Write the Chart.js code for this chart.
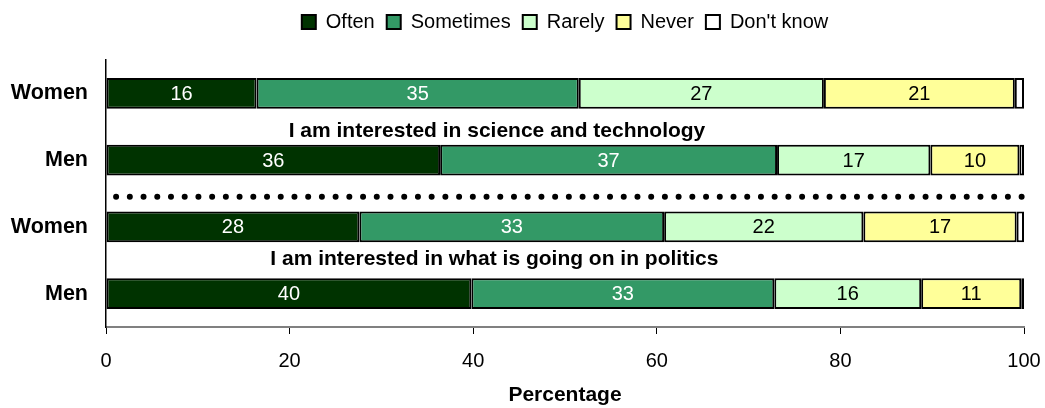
<!DOCTYPE html>
<html>
<head>
<meta charset="utf-8">
<script src="https://cdn.jsdelivr.net/npm/chart.js@4.4.1/dist/chart.umd.min.js"></script>
<style>
  html, body { margin: 0; padding: 0; background: #fff; }
  #wrap { width: 1045px; height: 408px; }
</style>
</head>
<body>
<div id="wrap"><canvas id="interestChart"></canvas></div>
<script>
// Survey answers, percent of respondents per group
const groups = ['Women', 'Men', 'Women', 'Men'];
const often = [16.4, 36.4, 27.6, 39.8];
const sometimes = [35.1, 36.7, 33.2, 33.0];
const rarely = [26.7, 16.7, 21.7, 16.0];
const never = [20.8, 9.7, 16.7, 10.9];
const dontKnow = [1.0, 0.5, 0.8, 0.3];
const xTicks = [0, 20, 40, 60, 80, 100];

const FONT = "'Liberation Sans', Arial, sans-serif";

// numbers inside the bars (skip the tiny "Don't know" slice)
const barLabels = {
  id: 'barLabels',
  afterDatasetsDraw(chart) {
    const ctx = chart.ctx;
    ctx.save();
    ctx.font = '20px ' + FONT;
    ctx.textAlign = 'center';
    ctx.textBaseline = 'middle';
    chart.data.datasets.forEach((ds, i) => {
      if (ds.label === "Don't know") return;
      const meta = chart.getDatasetMeta(i);
      meta.data.forEach((bar, j) => {
        const v = ds.data[j];
        ctx.fillStyle = ds.textColor;
        ctx.fillText(String(Math.round(v)), (bar.x + bar.base) / 2, bar.y + 1);
      });
    });
    ctx.restore();
  }
};

// extra room under the legend, and legend centred over the plot area
const legendSpace = {
  id: 'legendSpace',
  beforeInit(chart) {
    const fit = chart.legend.fit;
    chart.legend.fit = function () {
      fit.call(this);
      this.height += 18;
    };
  },
  afterLayout(chart) {
    chart.legend.left = chart.chartArea.left;
    chart.legend.right = chart.chartArea.right;
  }
};

// statement captions and dotted separator between the two questions
const captions = {
  id: 'captions',
  afterDraw(chart) {
    const ctx = chart.ctx;
    const x = chart.scales.x, y = chart.scales.y;
    const step = y.getPixelForValue(1) - y.getPixelForValue(0);
    ctx.save();
    ctx.font = 'bold 21px ' + FONT;
    ctx.fillStyle = '#000';
    ctx.textAlign = 'left';
    ctx.textBaseline = 'middle';
    ctx.fillText('I am interested in science and technology', x.getPixelForValue(19.9), y.getPixelForValue(0) + step * 0.56);
    ctx.fillText('I am interested in what is going on in politics', x.getPixelForValue(17.9), y.getPixelForValue(2) + step * 0.48);

    const dotY = y.getPixelForValue(1) + step * 0.55;
    ctx.strokeStyle = '#000';
    ctx.lineWidth = 6;
    ctx.lineCap = 'round';
    ctx.setLineDash([0, 13.72]);
    ctx.beginPath();
    ctx.moveTo(x.getPixelForValue(1.1), dotY);
    ctx.lineTo(x.getPixelForValue(99.9), dotY);
    ctx.stroke();
    ctx.restore();
  }
};

function series(label, data, fill, textColor) {
  return {
    label: label,
    data: data,
    backgroundColor: fill,
    borderColor: '#000',
    borderWidth: 2,
    borderSkipped: false,
    textColor: textColor,
    barPercentage: 0.92,
    categoryPercentage: 0.5
  };
}

new Chart(document.getElementById('interestChart'), {
  type: 'bar',
  data: {
    labels: groups,
    datasets: [
      series('Often', often, '#003300', '#fff'),
      series('Sometimes', sometimes, '#339966', '#fff'),
      series('Rarely', rarely, '#CCFFCC', '#000'),
      series('Never', never, '#FFFF99', '#000'),
      series("Don't know", dontKnow, '#ffffff', '#000')
    ]
  },
  options: {
    indexAxis: 'y',
    responsive: true,
    maintainAspectRatio: false,
    animation: false,
    layout: { padding: { top: 0, right: 21, bottom: 0, left: 0 } },
    plugins: {
      legend: {
        position: 'top',
        labels: {
          boxWidth: 14,
          boxHeight: 14,
          padding: 12,
          color: '#000',
          font: { family: FONT, size: 20 }
        }
      },
      tooltip: { enabled: false }
    },
    scales: {
      x: {
        stacked: true,
        min: 0,
        max: 100,
        afterBuildTicks(scale) {
          scale.ticks = xTicks.map(v => ({ value: v }));
        },
        afterFit(scale) {
          scale.height = 81;
          scale.paddingLeft = 0;
          scale.paddingRight = 0;
        },
        grid: { drawOnChartArea: false, drawTicks: true, tickLength: 7, color: '#000' },
        border: { color: '#808080', width: 2 },
        ticks: { color: '#000', padding: 15, font: { family: FONT, size: 20 } },
        title: {
          display: true,
          text: 'Percentage',
          color: '#000',
          padding: { top: 0, bottom: 0 },
          font: { family: FONT, size: 21, weight: 'bold' }
        }
      },
      y: {
        stacked: true,
        afterFit(scale) {
          scale.width = 106;
        },
        grid: { display: false },
        border: { color: '#000', width: 1.5 },
        ticks: { color: '#000', padding: 10, font: { family: FONT, size: 21.5, weight: 'bold' } }
      }
    }
  },
  plugins: [barLabels, legendSpace, captions]
});
</script>
</body>
</html>
